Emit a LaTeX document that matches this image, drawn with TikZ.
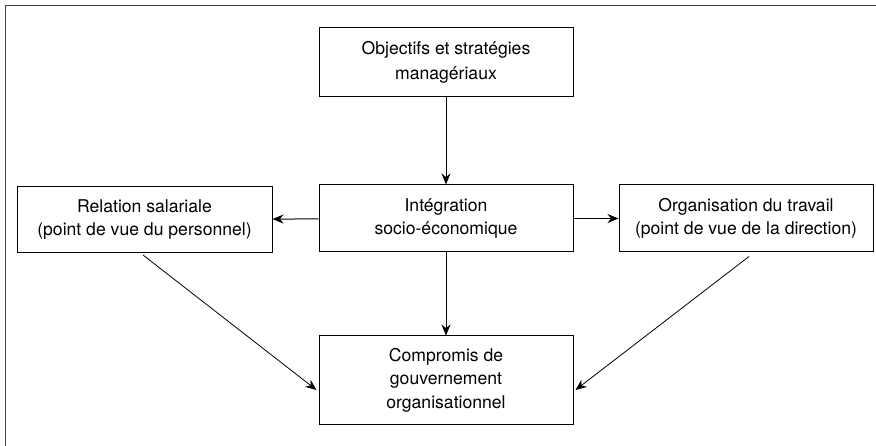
\documentclass[tikz,border=0pt]{standalone}
\usepackage{fontspec}
\setmainfont{TeX Gyre Heros}
\usetikzlibrary{arrows.meta,calc}
\begin{document}
\begin{tikzpicture}[x=1pt,y=-1pt,
  box/.style={draw=black,line width=1pt,inner sep=0pt,align=center,font=\fontsize{17.6}{22.5}\selectfont},
  arr/.style={-{Stealth[length=11pt,width=9pt]},line width=1pt},
  thin arr/.style={-{Stealth[length=11pt,width=9pt]},line width=0.8pt}]
\useasboundingbox (0,0) rectangle (876,446);
\draw[line width=1.8pt,draw=black!75] (5.5,446) -- (5.5,5.5) -- (876,5.5);
\node[box,minimum width=254pt,minimum height=69pt,font=\fontsize{17.6}{25.5}\selectfont] (top) at (446,62.5) {Objectifs et stratégies\\managériaux};
\node[box,minimum width=254pt,minimum height=67pt] (mid) at (446,218.5) {Intégration\\socio-économique};
\node[box,minimum width=255pt,minimum height=66pt] (lft) at (144.5,219.5) {Relation salariale\\(point de vue du personnel)};
\node[box,minimum width=254pt,minimum height=67pt] (rgt) at (746,218.5) {Organisation du travail\\(point de vue de la direction)};
\node[box,minimum width=254pt,minimum height=88pt,font=\fontsize{17.6}{23.5}\selectfont] (bot) at (446,380) {Compromis de\\gouvernement\\organisationnel};
\draw[arr] (top) -- (mid);
\draw[arr] (mid) -- (bot);
\draw[arr] (mid) -- (lft);
\draw[arr] (mid) -- (rgt);
\draw[thin arr] ([xshift=-1.5pt,yshift=-2pt]lft.south) -- ([xshift=-2pt,yshift=-10pt]bot.west);
\draw[thin arr] ([xshift=3pt,yshift=-4pt]rgt.south) -- ([xshift=2pt,yshift=-10pt]bot.east);
\end{tikzpicture}
\end{document}
